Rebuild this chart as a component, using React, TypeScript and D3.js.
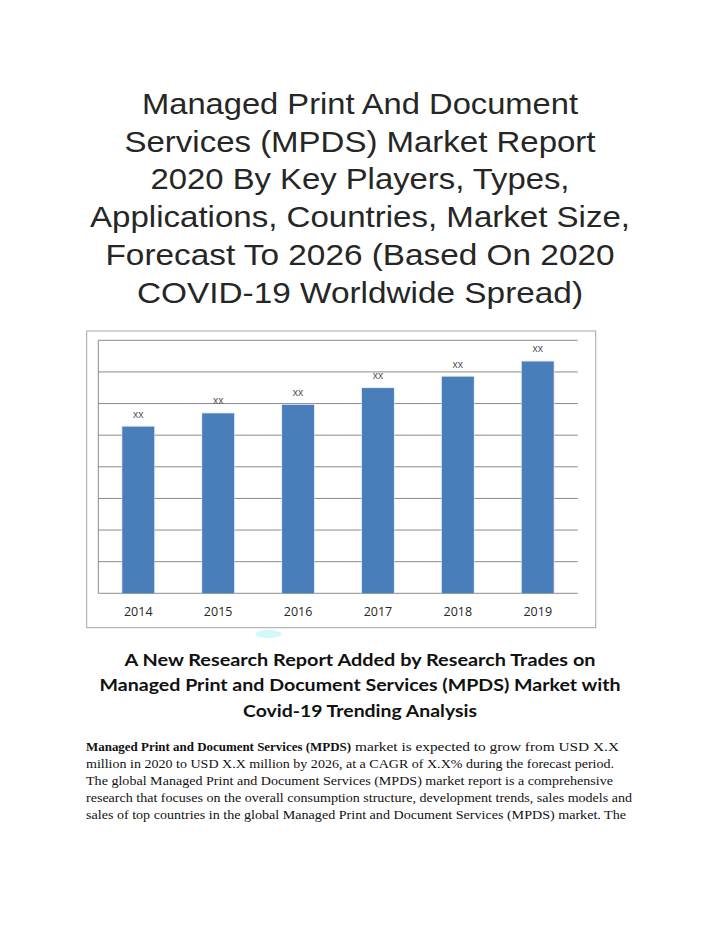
import React from "react";
import * as d3 from "d3";

const years = ["2014", "2015", "2016", "2017", "2018", "2019"];
const values = [5.27, 5.69, 5.96, 6.49, 6.85, 7.33];
const valueLabels = ["xx", "xx", "xx", "xx", "xx", "xx"];
const yTicks = [0, 1, 2, 3, 4, 5, 6, 7, 8];

const titleLines = [
  "Managed Print And Document",
  "Services (MPDS) Market Report",
  "2020 By Key Players, Types,",
  "Applications, Countries, Market Size,",
  "Forecast To 2026 (Based On 2020",
  "COVID-19 Worldwide Spread)",
];
const titleWidths = [436, 471, 419, 540, 509, 446];
const subtitleLines = [
  "A New Research Report Added by Research Trades on",
  "Managed Print and Document Services (MPDS) Market with",
  "Covid-19 Trending Analysis",
];
const subtitleWidths = [471, 521, 234];
const paraBold = "Managed Print and Document Services (MPDS)";
const paraFirstRest = "market is expected to grow from USD X.X";
const paraLines = [
  "million in 2020 to USD X.X million by 2026, at a CAGR of X.X% during the forecast period.",
  "The global Managed Print and Document Services (MPDS) market report is a comprehensive",
  "research that focuses on the overall consumption structure, development trends, sales models and",
  "sales of top countries in the global Managed Print and Document Services (MPDS) market. The",
];
const paraEnds = [614, 613, 632, 626];

export default function App() {
  const W = 720;
  const H = 931;
  const plot = { left: 98.3, right: 577.7, top: 340.3, bottom: 593.3 };
  const x = d3
    .scaleBand<string>()
    .domain(years)
    .range([plot.left, plot.right])
    .paddingInner(0.6)
    .paddingOuter(0.3);
  const y = d3.scaleLinear().domain([0, 8]).range([plot.bottom, plot.top]);

  return (
    <svg
      width={W}
      height={H}
      style={{ position: "absolute", left: 0, top: 0, background: "#fff" }}
    >
      {/* Title */}
      {titleLines.map((t, i) => (
        <text
          key={t}
          x={360}
          y={114 + i * 37.7}
          textAnchor="middle"
          fontFamily="Liberation Sans, Arial, sans-serif"
          fontSize={29.5}
          fill="#262626"
          textLength={titleWidths[i]}
          lengthAdjust="spacingAndGlyphs"
        >
          {t}
        </text>
      ))}

      {/* Chart frame */}
      <rect x={86.7} y={331} width={509} height={296.7} fill="#fff" stroke="#a6a6a6" strokeWidth={1} />

      {/* Gridlines */}
      {yTicks.map((t) => (
        <line
          key={t}
          x1={plot.left}
          x2={plot.right}
          y1={y(t)}
          y2={y(t)}
          stroke="#8a8a8a"
          strokeWidth={1}
        />
      ))}
      <line x1={plot.left} x2={plot.left} y1={plot.top} y2={plot.bottom} stroke="#8a8a8a" strokeWidth={1} />

      {/* Bars */}
      {years.map((yr, i) => (
        <g key={yr}>
          <rect
            x={(x(yr) ?? 0) - 1}
            y={y(values[i]) - 1}
            width={x.bandwidth() + 2}
            height={plot.bottom - y(values[i]) + 1}
            fill="#d6e3f3"
            opacity={0.6}
          />
          <rect
            x={x(yr)}
            y={y(values[i])}
            width={x.bandwidth()}
            height={plot.bottom - y(values[i])}
            fill="#4a7ebb"
          />
          <text
            x={(x(yr) ?? 0) + x.bandwidth() / 2}
            y={y(values[i]) - 9}
            textAnchor="middle"
            fontFamily="Liberation Sans, Arial, sans-serif"
            fontSize={10.5}
            fill="#555"
          >
            {valueLabels[i]}
          </text>
          <text
            x={(x(yr) ?? 0) + x.bandwidth() / 2}
            y={616}
            textAnchor="middle"
            fontFamily="Open Sans, sans-serif"
            fontSize={12.5}
            fill="#262626"
          >
            {yr}
          </text>
        </g>
      ))}

      {/* small cyan artifact */}
      <ellipse cx={268.5} cy={634} rx={13} ry={4} fill="#d3f7fa" />

      {/* Subtitle */}
      {subtitleLines.map((t, i) => (
        <text
          key={t}
          x={360}
          y={665.7 + i * 25.5}
          textAnchor="middle"
          fontFamily="Lato, sans-serif"
          fontWeight="bold"
          fontSize={17.5}
          fill="#111"
          textLength={subtitleWidths[i]}
          lengthAdjust="spacingAndGlyphs"
        >
          {t}
        </text>
      ))}

      {/* Paragraph */}
      <text
        x={86}
        y={750.5}
        fontFamily="Liberation Serif, Times New Roman, serif"
        fontWeight="bold"
        fontSize={13}
        fill="#111"
        textLength={265}
        lengthAdjust="spacingAndGlyphs"
      >
        {paraBold}
      </text>
      <text
        x={355}
        y={750.5}
        fontFamily="Liberation Serif, Times New Roman, serif"
        fontSize={13}
        fill="#111"
        textLength={264}
        lengthAdjust="spacingAndGlyphs"
      >
        {paraFirstRest}
      </text>
      {paraLines.map((t, i) => (
        <text
          key={t}
          x={86}
          y={767.5 + i * 17}
          fontFamily="Liberation Serif, Times New Roman, serif"
          fontSize={13}
          fill="#111"
          textLength={paraEnds[i] - 86}
          lengthAdjust="spacingAndGlyphs"
        >
          {t}
        </text>
      ))}
    </svg>
  );
}
